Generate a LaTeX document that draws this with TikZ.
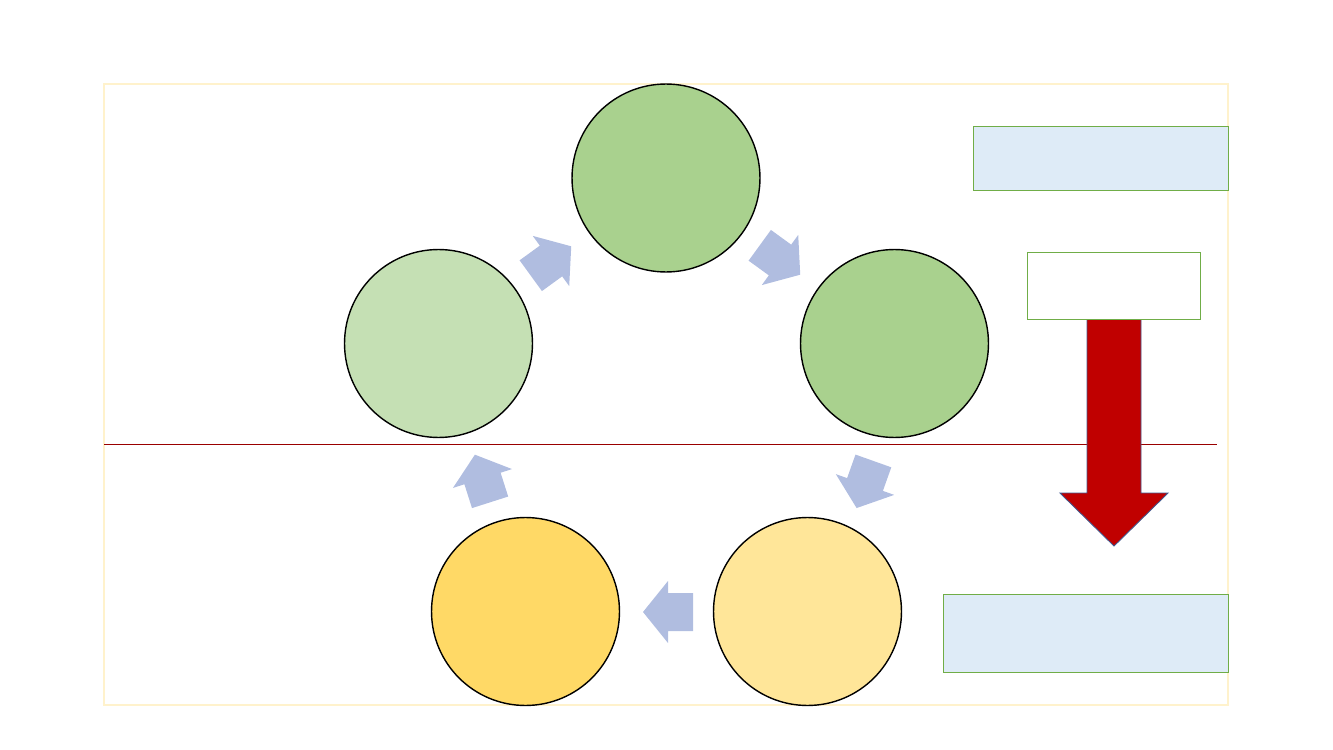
\documentclass[tikz,border=0pt]{standalone}
\usepackage{xcolor}
\usepackage{tikz}
\usetikzlibrary{positioning,calc}
\definecolor{framebg}{HTML}{FFF2CC}
\definecolor{greenA}{HTML}{A9D18E}
\definecolor{greenB}{HTML}{C5E0B4}
\definecolor{goldA}{HTML}{FFD966}
\definecolor{goldB}{HTML}{FFE699}
\definecolor{cyclearrow}{HTML}{B0BDE0}
\definecolor{boxbg}{HTML}{DEEBF7}
\definecolor{boxline}{HTML}{70AD47}
\definecolor{darkred}{HTML}{C00000}
\definecolor{divline}{HTML}{9A0000}
\definecolor{arrowline}{HTML}{41598F}

\begin{document}
\begin{tikzpicture}[x=0.02cm, y=-0.02cm,
    stage/.style={circle, draw=black, line width=0.8pt, minimum size=3.76cm, inner sep=0pt},
    infobox/.style={rectangle, draw=boxline, line width=0.6pt, fill=boxbg, inner sep=0pt, anchor=north west}]
  \useasboundingbox (0,0) rectangle (1333,750);

  % Outer frame and divider
  \draw[framebg, line width=0.6pt] (104,84) rectangle (1228,705);
  \coordinate (divL) at (104,444.5);
  \coordinate (divR) at (1217,444.5);
  \draw[divline, line width=0.7pt] (divL) -- (divR);

  % Cycle stages
  \node[stage, fill=greenA] (top) at (666,178) {};
  \node[stage, fill=greenB] (left) at (438.5,343.5) {};
  \node[stage, fill=greenA] (right) at (894.5,343.5) {};
  \node[stage, fill=goldA] (botL) at (525.5,611.5) {};
  \node[stage, fill=goldB] (botR) at (807.5,611.5) {};

  % Block arrows between stages
  \foreach \x/\y/\a in {551/261/36, 780/260/-36, 865/484.5/-109.6, 482.5/478.5/107.7, 668/612/180} {
    \begin{scope}[shift={(\x,\y)}, rotate=\a]
      \fill[cyclearrow] (-25,-19) -- (0,-19) -- (0,-31) -- (25,0) -- (0,31) -- (0,19) -- (-25,19) -- cycle;
    \end{scope}
  }

  % Boxes on right
  \node[infobox, minimum width=5.1cm, minimum height=1.28cm] (boxTop) at (973,126) {};
  \node[infobox, fill=white, minimum width=3.46cm, minimum height=1.34cm] (boxMid) at (1027,252) {};
  \node[infobox, minimum width=5.7cm, minimum height=1.56cm] (boxBot) at (943,594) {};

  % Red down arrow
  \draw[fill=darkred, draw=arrowline, line width=0.5pt]
    ($(boxMid.south)+(-27,0)$) -- ++(0,173) -- ++(-27,0) -- ++(54,53) -- ++(54,-53)
    -- ++(-27,0) -- ($(boxMid.south)+(27,0)$);
\end{tikzpicture}
\end{document}
